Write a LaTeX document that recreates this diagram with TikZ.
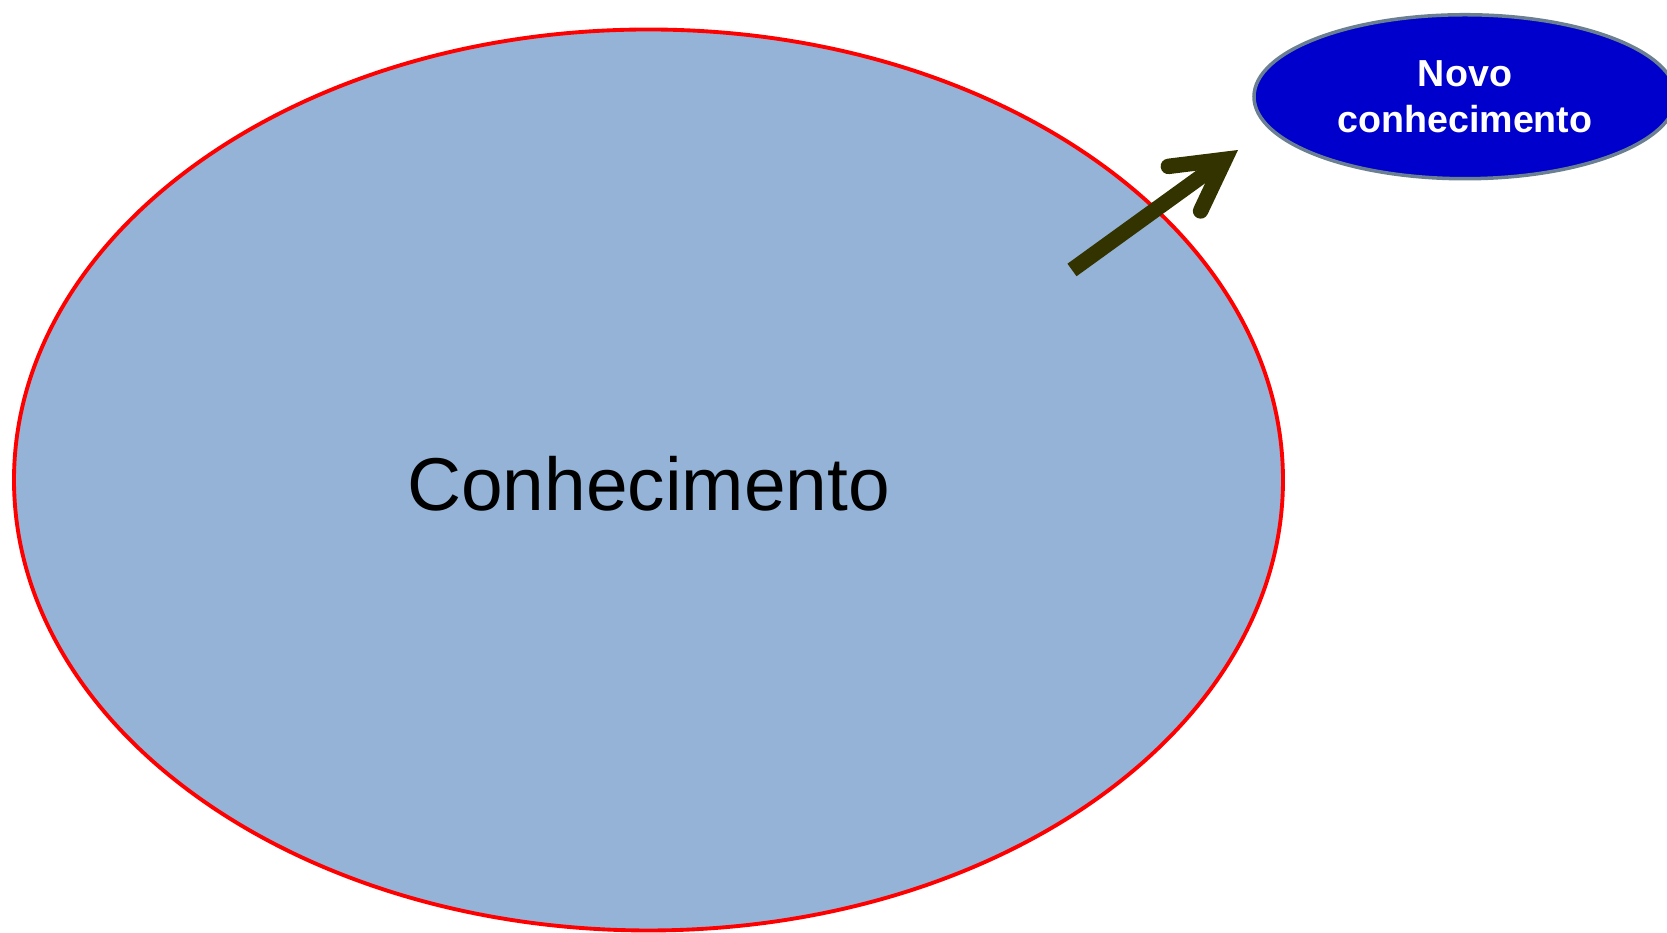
\documentclass[tikz,border=0pt]{standalone}
\usepackage{fontspec}
\setsansfont{Liberation Sans}
\usetikzlibrary{arrows.meta,positioning,shapes.geometric}
\definecolor{knFill}{HTML}{95B3D7}
\definecolor{knEdge}{HTML}{FF0000}
\definecolor{novoFill}{HTML}{0000CC}
\definecolor{novoEdge}{HTML}{6B7F93}
\definecolor{knArrow}{HTML}{333300}
\tikzset{
  kn diagram/.style={font=\sffamily, line join=round},
  kn field/.style={ellipse, draw=knEdge, fill=knFill, line width=1.1pt,
    minimum width=12.69cm, minimum height=9.01cm, inner sep=0pt, text height=0.61cm,
    font=\sffamily\fontsize{21.3}{25}\selectfont},
  kn new/.style={ellipse, draw=novoEdge, fill=novoFill, line width=1pt,
    minimum width=4.22cm, minimum height=1.64cm, inner sep=0pt, align=center,
    text=white, font=\sffamily\bfseries\fontsize{10.7}{13}\selectfont},
  kn arrow/.style={-{Straight Barb[length=5mm, width=5.5mm, line cap=round, line join=miter]},
    draw=knArrow, line width=4.4pt}
}

\begin{document}
\begin{tikzpicture}[kn diagram]
\useasboundingbox (0,0) rectangle (16.67,9.33);
\node[kn field] (conhecimento) at (6.485,4.53) {Conhecimento};
\node[kn new] (novo) at (14.65,8.3625) {Novo\\conhecimento};
% arrow from inside the big field out towards the new one
\coordinate (arrowTail) at (10.72,6.63);
\coordinate (arrowTip) at (12.38,7.83);
\draw[kn arrow] (arrowTail) -- (arrowTip);
\end{tikzpicture}
\end{document}
